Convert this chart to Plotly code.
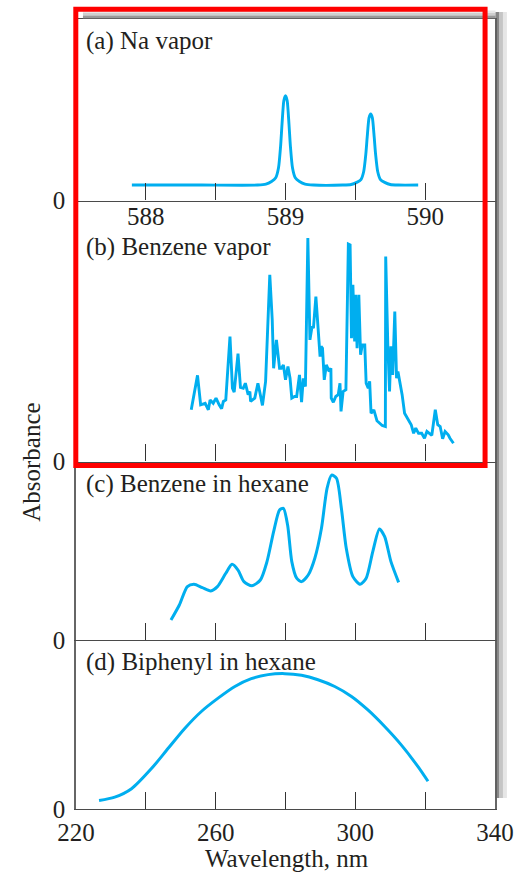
import plotly.graph_objects as go

# ---------------- data ----------------
# (a) Na vapor (x in nm, y as fraction of panel full scale)
na_wavelength = [587.90, 588.40, 588.80, 588.86, 588.90, 588.93, 588.95, 588.965, 588.975, 588.988,
                 589.00, 589.012, 589.025, 589.035, 589.05, 589.07, 589.10, 589.14, 589.20,
                 589.41, 589.47, 589.51, 589.54, 589.56, 589.575, 589.585, 589.598,
                 589.61, 589.622, 589.635, 589.645, 589.66, 589.68, 589.71, 589.75, 589.81, 589.95]
na_absorbance = [0.085, 0.085, 0.085, 0.09, 0.105, 0.125, 0.18, 0.30, 0.42, 0.55,
                 0.578, 0.55, 0.42, 0.30, 0.18, 0.125, 0.105, 0.09, 0.085,
                 0.085, 0.088, 0.10, 0.115, 0.16, 0.255, 0.35, 0.455,
                 0.477, 0.455, 0.35, 0.255, 0.16, 0.115, 0.10, 0.088, 0.085, 0.085]

# (b) Benzene vapor
bv_wavelength = [253.0, 254.8, 255.7, 257.0, 257.9, 258.4, 259.3, 260.1, 261.0, 261.7,
                 262.2, 262.9, 264.1, 264.8, 265.3, 266.4, 267.1, 267.9, 268.5, 269.3,
                 269.8, 270.0, 271.2, 272.1, 272.6, 273.4, 274.3, 275.5, 276.2, 276.6,
                 277.4, 277.8, 278.3, 278.8, 279.4, 280.0, 280.7, 281.3, 281.8, 282.6,
                 283.2, 284.0, 284.6, 285.1, 285.7, 286.4, 287.0, 287.6, 288.0, 288.7,
                 289.5, 289.9, 290.2, 290.6, 291.1, 291.7, 292.5, 293.0, 293.1, 293.7,
                 294.4, 295.1, 295.6, 295.9, 296.5, 297.3, 298.0, 298.5, 298.9, 299.3,
                 299.8, 300.1, 300.5, 301.0, 301.5, 302.0, 302.7, 303.1, 303.7, 304.1,
                 304.5, 305.3, 306.2, 307.7, 308.6, 308.7, 309.3, 309.8, 310.2, 310.7,
                 311.3, 311.8, 312.2, 312.7, 313.4, 314.1, 315.1, 316.0, 316.7, 317.3,
                 318.1, 319.0, 319.8, 320.5, 321.9, 322.9, 323.6, 324.3, 325.0, 325.7,
                 326.6, 327.1, 328.1]
bv_absorbance = [0.198, 0.330, 0.217, 0.223, 0.198, 0.236, 0.223, 0.243, 0.217, 0.202,
                 0.230, 0.236, 0.479, 0.281, 0.266, 0.413, 0.284, 0.281, 0.300, 0.256,
                 0.268, 0.230, 0.243, 0.300, 0.268, 0.215, 0.307, 0.715, 0.543, 0.357,
                 0.466, 0.421, 0.357, 0.357, 0.370, 0.313, 0.364, 0.319, 0.243, 0.249,
                 0.249, 0.332, 0.227, 0.319, 0.287, 0.856, 0.466, 0.517, 0.511, 0.632,
                 0.447, 0.402, 0.441, 0.434, 0.313, 0.370, 0.345, 0.357, 0.243, 0.227,
                 0.249, 0.256, 0.300, 0.192, 0.268, 0.275, 0.833, 0.830, 0.472, 0.677,
                 0.460, 0.639, 0.434, 0.639, 0.409, 0.447, 0.447, 0.300, 0.281, 0.307,
                 0.185, 0.198, 0.156, 0.138, 0.134, 0.785, 0.447, 0.268, 0.441, 0.332,
                 0.575, 0.319, 0.345, 0.313, 0.256, 0.185, 0.160, 0.141, 0.108, 0.128,
                 0.108, 0.108, 0.089, 0.115, 0.100, 0.198, 0.141, 0.134, 0.087, 0.115,
                 0.102, 0.089, 0.070]

# (c) Benzene in hexane
bh_wavelength = [247.2, 249.6, 251.9, 253.8, 256.2, 258.6, 260.5, 262.9, 264.7, 266.4,
                 268.1, 270.4, 272.8, 274.7, 276.6, 278.3, 279.4, 280.6, 281.8, 283.2,
                 284.6, 286.5, 288.4, 290.3, 291.9, 293.2, 294.6, 296.0, 297.4, 299.3,
                 301.4, 303.1, 305.0, 306.9, 308.4, 310.2, 312.4]
bh_absorbance = [0.112, 0.196, 0.299, 0.312, 0.293, 0.275, 0.299, 0.374, 0.424, 0.392,
                 0.327, 0.304, 0.336, 0.439, 0.607, 0.728, 0.738, 0.644, 0.439, 0.346,
                 0.327, 0.364, 0.458, 0.626, 0.850, 0.924, 0.906, 0.738, 0.514, 0.355,
                 0.312, 0.346, 0.495, 0.622, 0.579, 0.439, 0.323]

# (d) Biphenyl in hexane
bp_wavelength = [226.6, 231.1, 235.9, 241.6, 246.4, 251.2, 255.9, 260.7, 265.5, 270.2,
                 275.0, 279.8, 284.6, 289.3, 294.1, 298.9, 303.6, 308.4, 313.2, 318.0, 320.8]
bp_absorbance = [0.050, 0.070, 0.120, 0.239, 0.359, 0.478, 0.577, 0.656, 0.725, 0.771,
                 0.795, 0.801, 0.791, 0.765, 0.725, 0.666, 0.586, 0.488, 0.378, 0.249, 0.164]

na_tickvals = [588, 588.5, 589, 589.5, 590]
na_ticktext = ["588", "", "589", "", "590"]
nm_tickvals = [220, 240, 260, 280, 300, 320, 340]
nm_ticktext = ["220", "", "260", "", "300", "", "340"]
inner_tickvals = [240, 260, 280, 300, 320]
panel_labels = ["(a) Na vapor", "(b) Benzene vapor", "(c) Benzene in hexane", "(d) Biphenyl in hexane"]

# ---------------- figure ----------------
LINE = "#00AEEF"
AX = "#4a4a4a"
TXT = "#231F20"
FONT = "Liberation Serif"
FS = 25
W, H = 526, 873
ML, MR, MT, MB = 76, 28, 19, 64
PW, PH = W - ML - MR, H - MT - MB


def px_x(px):
    return (px - ML) / PW


def px_y(py):
    return (H - MB - py) / PH


fig = go.Figure()
fig.add_trace(go.Scatter(x=bp_wavelength, y=bp_absorbance, xaxis="x", yaxis="y", mode="lines",
                         line=dict(color=LINE, width=3, shape="spline", smoothing=0.8)))
fig.add_trace(go.Scatter(x=bh_wavelength, y=bh_absorbance, xaxis="x2", yaxis="y2", mode="lines",
                         line=dict(color=LINE, width=3, shape="spline", smoothing=0.7)))
fig.add_trace(go.Scatter(x=bv_wavelength, y=bv_absorbance, xaxis="x3", yaxis="y3", mode="lines",
                         line=dict(color=LINE, width=2.9)))
fig.add_trace(go.Scatter(x=na_wavelength, y=na_absorbance, xaxis="x4", yaxis="y4", mode="lines",
                         line=dict(color=LINE, width=2.9, shape="spline", smoothing=0.6)))

# panel boundaries in pixels (top, bottom)
bounds = [(640, 809), (461.5, 640), (200.5, 461.5), (19, 200.5)]
tickfont = dict(family=FONT, size=FS, color=TXT)
common_x = dict(showline=True, linecolor=AX, linewidth=1.3, mirror=False, ticks="inside",
                ticklen=17, tickwidth=1.4, tickcolor="#333333", showgrid=False, zeroline=False,
                tickfont=tickfont)
common_y = dict(range=[0, 1], showline=True, linecolor="#666666", linewidth=1.5, mirror=True,
                ticks="", tickvals=[0], ticktext=["0"], showgrid=False, zeroline=False,
                tickfont=tickfont, ticklabelstandoff=4)

layout = dict(width=W, height=H, margin=dict(l=ML, r=MR, t=MT, b=MB),
              paper_bgcolor="white", plot_bgcolor="white", showlegend=False)
for i, (top, bot) in enumerate(bounds):
    n = "" if i == 0 else str(i + 1)
    dom = [px_y(bot), px_y(top)]
    xa = dict(common_x, anchor="y" + n)
    if i == 3:
        xa.update(range=[587.5, 590.5], tickvals=na_tickvals, ticktext=na_ticktext,
                  ticklabelstandoff=-7, mirror=True)
    elif i == 0:
        xa.update(range=[220, 340], tickvals=nm_tickvals, ticktext=nm_ticktext,
                  ticklabelstandoff=1)
    else:
        xa.update(range=[220, 340], tickvals=inner_tickvals, showticklabels=False)
    ya = dict(common_y, domain=dom, anchor="x" + n)
    layout["xaxis" + n] = xa
    layout["yaxis" + n] = ya

annotations = []
label_y = [661.5, 484, 247, 41][::-1]
for lab, ly in zip(panel_labels, label_y):
    annotations.append(dict(text=lab, xref="paper", yref="paper", x=px_x(84), y=px_y(ly),
                            xanchor="left", yanchor="middle", showarrow=False,
                            font=dict(family=FONT, size=FS, color=TXT)))
annotations.append(dict(text="Absorbance", xref="paper", yref="paper", x=px_x(31), y=px_y(462.5),
                        xanchor="center", yanchor="middle", textangle=-90, showarrow=False,
                        font=dict(family=FONT, size=FS, color=TXT)))
annotations.append(dict(text="Wavelength, nm", xref="paper", yref="paper", x=px_x(288.5), y=px_y(858.5),
                        xanchor="center", yanchor="middle", showarrow=False,
                        font=dict(family=FONT, size=FS, color=TXT)))
layout["annotations"] = annotations

shapes = []
# frame shadow (right strip and top band)
for (a, b, col) in [(498.5, 502, "rgba(95,95,95,0.75)"), (502, 506, "rgba(150,150,150,0.55)"),
                    (506, 510, "rgba(200,200,200,0.45)")]:
    shapes.append(dict(type="rect", xref="paper", yref="paper", x0=px_x(a), x1=px_x(b),
                       y0=px_y(798), y1=px_y(12), line=dict(width=0), fillcolor=col, layer="above"))
for (a, b, col) in [(15.5, 19, "rgba(110,110,110,0.7)"), (13, 15.5, "rgba(160,160,160,0.5)"),
                    (10.5, 13, "rgba(205,205,205,0.45)")]:
    shapes.append(dict(type="rect", xref="paper", yref="paper", x0=px_x(83), x1=px_x(498.5),
                       y0=px_y(b), y1=px_y(a), line=dict(width=0), fillcolor=col, layer="above"))
# red highlight rectangle
shapes.append(dict(type="rect", xref="paper", yref="paper", x0=px_x(75.8), x1=px_x(488),
                   y0=px_y(465.5), y1=px_y(9.2), line=dict(color="#FF0000", width=5),
                   fillcolor="rgba(0,0,0,0)", layer="above"))
layout["shapes"] = shapes

fig.update_layout(**layout)
fig.write_html("out.html")
